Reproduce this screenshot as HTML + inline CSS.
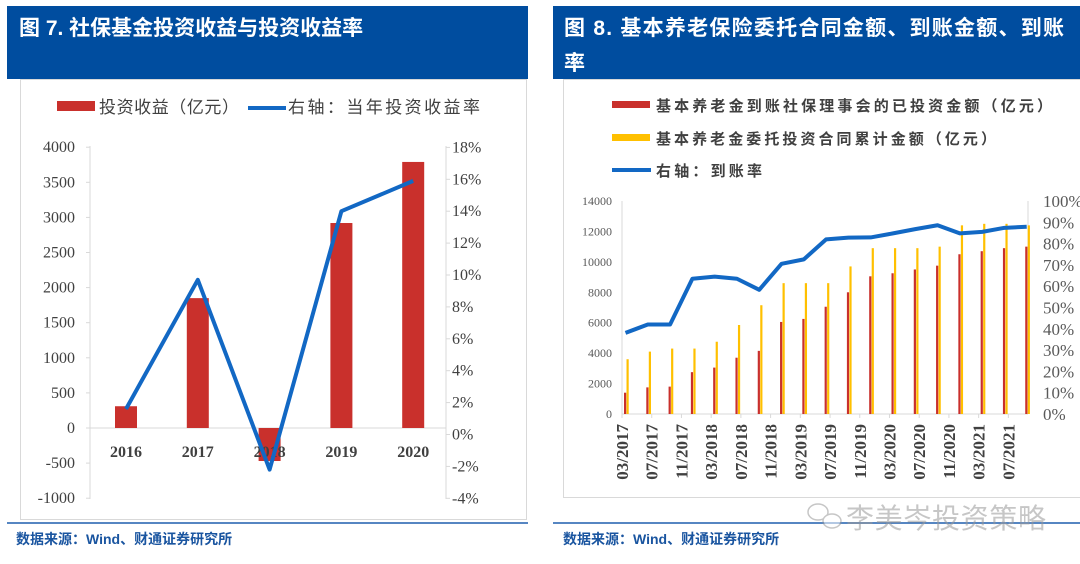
<!DOCTYPE html>
<html><head><meta charset="utf-8">
<style>
html,body{margin:0;padding:0;background:#fff;width:1080px;height:564px;overflow:hidden}
svg{display:block}
text{font-family:"Liberation Sans","Noto Sans CJK SC",sans-serif}
.serif{font-family:"Liberation Serif","Noto Serif CJK SC",serif}
</style></head><body>
<svg id="s" width="1080" height="564" xmlns="http://www.w3.org/2000/svg">
 <rect x="7" y="6" width="521" height="73" fill="#004d9f"/>
 <text x="19" y="35" fill="#fff" font-size="21" font-weight="bold">图 7. 社保基金投资收益与投资收益率</text>
 <rect x="20.5" y="79.5" width="506" height="440" fill="#fff" stroke="#d9d9d9"/>
 <rect x="553" y="6" width="527" height="73" fill="#004d9f"/>
 <text x="564" y="35" fill="#fff" font-size="21" font-weight="bold" textLength="500">图 8. 基本养老保险委托合同金额、到账金额、到账</text>
 <text x="564" y="70" fill="#fff" font-size="21" font-weight="bold">率</text>
 <rect x="563.5" y="79.5" width="520" height="418" fill="#fff" stroke="#d9d9d9"/>
 <line x1="7" y1="523" x2="528" y2="523" stroke="#1f5fae" stroke-width="1.5"/>
 <line x1="553" y1="523" x2="1080" y2="523" stroke="#1f5fae" stroke-width="1.5"/>
 <text x="16" y="544" fill="#1a55a0" font-size="14" font-weight="bold">数据来源：Wind、财通证券研究所</text>
 <text x="563" y="544" fill="#1a55a0" font-size="14" font-weight="bold">数据来源：Wind、财通证券研究所</text>
 <g opacity="0.55">
  <ellipse cx="818" cy="512" rx="10" ry="8" fill="none" stroke="#999" stroke-width="1.5"/>
  <ellipse cx="832" cy="521" rx="9" ry="7" fill="#fff" stroke="#999" stroke-width="1.5"/>
  <text x="846" y="528" fill="#999" font-size="28" textLength="200">李美岑投资策略</text>
 </g>
 <g id="c1"></g><g id="c2"></g>
</svg>
<script>
// ---- Chart 1 data ----
const years=["2016","2017","2018","2019","2020"];
const income=[310,1850,-470,2920,3790];
const rate=[1.6,9.7,-2.2,14.0,15.9];
const leftTicks=[4000,3500,3000,2500,2000,1500,1000,500,0,-500,-1000];
const rightTicks=[18,16,14,12,10,8,6,4,2,0,-2,-4];
// ---- Chart 2 data ----
const quarters=["03/2017","06/2017","09/2017","12/2017","03/2018","06/2018","09/2018","12/2018","03/2019","06/2019","09/2019","12/2019","03/2020","06/2020","09/2020","12/2020","03/2021","06/2021","09/2021"];
const invested=[1400,1750,1800,2750,3050,3700,4150,6050,6250,7050,8000,9050,9250,9500,9750,10500,10700,10900,11000];
const contract=[3600,4100,4300,4300,4750,5850,7150,8600,8600,8600,9700,10900,10900,10900,11000,12400,12500,12500,12400];
const arrival=[38.1,42,42,63.5,64.5,63.5,58.3,70.5,72.6,82,82.8,82.9,84.8,86.8,88.6,84.8,85.5,87.4,87.9];
const xLabels=["03/2017","07/2017","11/2017","03/2018","07/2018","11/2018","03/2019","07/2019","11/2019","03/2020","07/2020","11/2020","03/2021","07/2021"];
const yTicks2=[0,2000,4000,6000,8000,10000,12000,14000];
const pctTicks2=[0,10,20,30,40,50,60,70,80,90,100];

const NS="http://www.w3.org/2000/svg";
function mk(p,tag,a,txt){const e=document.createElementNS(NS,tag);for(const k in a)e.setAttribute(k,a[k]);if(txt!==undefined)e.textContent=txt;p.appendChild(e);return e;}

// Chart 1
(function(){
 const g=document.getElementById('c1');
 const yL=v=>428-v*(35.1/500);
 const yR=v=>434.5-v*(31.9/2);
 const xC=i=>126+i*71.8;
 let e=mk(g,'rect',{x:57,y:101,width:38,height:10,fill:'#c9302c'});
 
 e=mk(g,'text',{x:99,y:113,'font-size':17,fill:'#404040',textLength:140},'投资收益（亿元）');
 
 e=mk(g,'line',{x1:248,y1:108,x2:286,y2:108,stroke:'#1268c4','stroke-width':4});
 
 e=mk(g,'text',{x:288,y:113,'font-size':17,fill:'#404040',textLength:192},'右轴：当年投资收益率');
 
 e=mk(g,'line',{x1:90,y1:146,x2:90,y2:499,stroke:'#d9d9d9'});
 
 e=mk(g,'line',{x1:446,y1:146,x2:446,y2:499,stroke:'#d9d9d9'});
 
 e=mk(g,'line',{x1:90,y1:yL(0),x2:446,y2:yL(0),stroke:'#d9d9d9'});
 
 leftTicks.forEach(v=>{const t=mk(g,'text',{x:75,y:yL(v)+5,'text-anchor':'end','font-size':16,fill:'#404040','class':'serif'},String(v));
  
  mk(g,'line',{x1:86,y1:yL(v),x2:90,y2:yL(v),stroke:'#d9d9d9'});});
 rightTicks.forEach(v=>{const t=mk(g,'text',{x:452,y:yR(v)+5,'font-size':16,fill:'#404040','class':'serif'},v+'%');
  
  mk(g,'line',{x1:446,y1:yR(v),x2:450,y2:yR(v),stroke:'#d9d9d9'});});
 income.forEach((v,i)=>{const y0=yL(0),y1=yL(v);
  const r=mk(g,'rect',{x:xC(i)-11,y:Math.min(y0,y1),width:22,height:Math.abs(y1-y0),fill:'#c9302c'});
  });
 years.forEach((y,i)=>{const t=mk(g,'text',{x:xC(i),y:457,'text-anchor':'middle','font-size':16,'font-weight':'bold',fill:'#404040','class':'serif'},y);
  });
 const pl=mk(g,'polyline',{points:rate.map((v,i)=>xC(i)+','+yR(v)).join(' '),fill:'none',stroke:'#1268c4','stroke-width':4,'stroke-linejoin':'round'});
 
})();

// Chart 2
(function(){
 const g=document.getElementById('c2');
 const x0=622,pxm=7.43;
 const mIdx=s=>{const [m,y]=s.split('/').map(Number);return (y-2017)*12+(m-3);};
 const xD=s=>x0+mIdx(s)*pxm;
 const yL=v=>414-v*(213/14000);
 const yR=v=>414-v*2.13;
 const legend=[['#c9302c','基本养老金到账社保理事会的已投资金额（亿元）','legend-invested',396],['#ffc000','基本养老金委托投资合同累计金额（亿元）','legend-contract',340]];
 legend.forEach((l,i)=>{let e=mk(g,'rect',{x:612,y:101+i*33,width:38,height:7,fill:l[0]});
  
  e=mk(g,'text',{x:656,y:111+i*33,'font-size':15,'font-weight':'bold',fill:'#404040',textLength:l[3]},l[1]);
  });
 let e=mk(g,'line',{x1:612,y1:170,x2:651,y2:170,stroke:'#1268c4','stroke-width':4});
 
 e=mk(g,'text',{x:656,y:176,'font-size':15,'font-weight':'bold',fill:'#404040',textLength:106},'右轴：到账率');
 
 e=mk(g,'line',{x1:x0,y1:201,x2:x0,y2:418,stroke:'#d9d9d9'});
 
 e=mk(g,'line',{x1:1028,y1:201,x2:1028,y2:414,stroke:'#d9d9d9'});
 
 e=mk(g,'line',{x1:x0,y1:414,x2:1028,y2:414,stroke:'#d9d9d9'});
 
 yTicks2.forEach(v=>{const t=mk(g,'text',{x:612,y:yL(v)+4,'text-anchor':'end','font-size':12,fill:'#595959','class':'serif'},String(v));
  });
 pctTicks2.forEach(v=>{const t=mk(g,'text',{x:1043,y:yR(v)+6,'font-size':17,fill:'#595959','class':'serif'},v+'%');
  });
 xLabels.forEach(s=>{const x=xD(s);mk(g,'line',{x1:x,y1:414,x2:x,y2:418,stroke:'#d9d9d9'});
  const t=mk(g,'text',{transform:'translate('+(x+6)+',424) rotate(-90)','text-anchor':'end','font-size':17,'font-weight':'bold',fill:'#404040','class':'serif'},s);
  });
 quarters.forEach((q,i)=>{const x=xD(q);
  let r=mk(g,'rect',{x:x+2,y:yL(invested[i]),width:2.2,height:414-yL(invested[i]),fill:'#c9302c'});
  
  r=mk(g,'rect',{x:x+4.5,y:yL(contract[i]),width:2.2,height:414-yL(contract[i]),fill:'#ffc000'});
  });
 const pl=mk(g,'polyline',{points:arrival.map((v,i)=>(xD(quarters[i])+3.5)+','+yR(v)).join(' '),fill:'none',stroke:'#1268c4','stroke-width':4,'stroke-linejoin':'round'});
 
})();
</script>
</body></html>
